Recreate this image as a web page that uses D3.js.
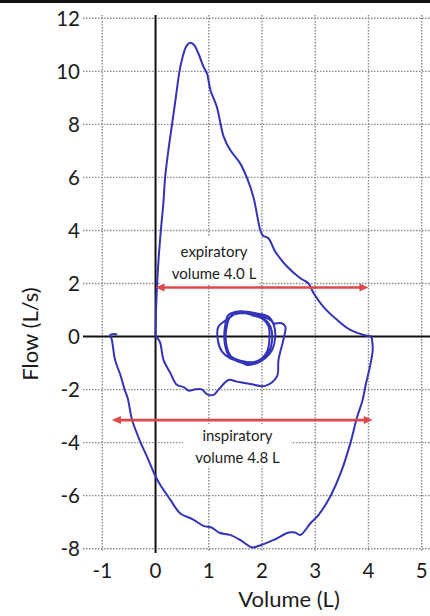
<!DOCTYPE html>
<html>
<head>
<meta charset="utf-8">
<script src="https://cdn.jsdelivr.net/npm/d3@7"></script>
<style>
  body { margin: 0; background: #fff; }
  svg { display: block; }
</style>
</head>
<body>
<div id="chart"></div>
<script>
// flow-volume loop, values
const xTicks = [-1, 0, 1, 2, 3, 4, 5];
const yTicks = [-8, -6, -4, -2, 0, 2, 4, 6, 8, 10, 12];

// forced expiration: volume (L), flow (L/s)
const expiration = [
  [0, 0], [0.01, 1.0], [0.03, 2.0], [0.06, 3.0], [0.1, 4.0], [0.15, 5.1],
  [0.18, 6.0], [0.24, 7.0], [0.31, 8.0], [0.38, 9.0], [0.45, 10.0],
  [0.51, 10.55], [0.58, 10.95], [0.65, 11.08], [0.72, 11.0], [0.8, 10.7],
  [0.9, 10.18], [0.97, 9.9], [1.03, 9.3], [1.15, 8.67], [1.28, 7.54],
  [1.4, 7.04], [1.59, 6.53], [1.72, 5.97], [1.84, 5.25], [1.97, 4.0],
  [2.02, 3.8], [2.12, 3.71], [2.25, 3.2], [2.47, 2.64], [2.72, 2.2],
  [2.87, 2.01], [2.97, 1.63], [3.15, 1.13], [3.41, 0.63], [3.66, 0.25],
  [3.91, 0.06], [4.06, 0.0]
];

// forced inspiration
const inspiration = [
  [4.06, 0], [4.08, -0.5], [4.02, -1.2], [3.95, -1.8], [3.89, -2.39],
  [3.78, -3.08], [3.66, -4.02], [3.5, -5.03], [3.28, -6.04], [3.06, -6.73],
  [2.91, -7.04], [2.72, -7.48], [2.62, -7.39], [2.5, -7.39], [2.22, -7.67],
  [1.9, -7.92], [1.81, -7.95], [1.59, -7.67], [1.4, -7.48], [1.2, -7.4],
  [1.05, -7.2], [0.9, -7.14], [0.71, -6.9], [0.46, -6.66], [0.28, -6.16],
  [0.09, -5.6], [0, -5.27], [-0.16, -4.53], [-0.29, -3.95], [-0.44, -3.15],
  [-0.52, -2.35], [-0.58, -2.0], [-0.66, -1.45], [-0.76, -0.88],
  [-0.82, -0.13], [-0.85, 0.06], [-0.78, 0.1], [-0.72, 0.08]
];

// quiet breathing before the manoeuvre
const tidal = [
  [0, 0], [0.05, -0.1], [0.09, -0.25], [0.15, -0.88], [0.28, -1.38],
  [0.4, -1.82], [0.53, -1.91], [0.62, -2.04], [0.75, -1.99], [0.87, -1.99],
  [0.97, -2.18], [1.09, -2.2], [1.18, -2.01], [1.37, -1.64], [1.53, -1.7],
  [1.78, -1.79], [2.06, -1.86], [2.28, -1.51], [2.31, -0.88], [2.4, -0.13],
  [2.44, 0.37], [2.37, 0.5], [2.22, 0.5],
  [2.16, 0.62], [1.95, 0.8], [1.78, 0.83], [1.56, 0.92], [1.4, 0.72],
  [1.28, 0.56], [1.18, 0.37], [1.17, -0.13], [1.25, -0.57], [1.4, -0.82],
  [1.59, -0.95], [1.72, -1.07], [1.9, -1.01], [2.06, -0.82], [2.19, -0.51],
  [2.25, 0.0], [2.22, 0.45],
  [2.12, 0.75], [1.9, 0.87], [1.59, 0.95], [1.37, 0.81], [1.31, 0.44],
  [1.3, -0.25], [1.37, -0.69], [1.56, -0.95], [1.78, -1.01], [2.0, -0.88],
  [2.12, -0.63], [2.19, -0.13], [2.16, 0.37], [2.03, 0.69],
  [1.85, 0.85], [1.6, 0.88], [1.42, 0.78], [1.34, 0.4], [1.33, -0.3],
  [1.42, -0.75], [1.62, -0.92], [1.82, -0.97], [1.98, -0.85], [2.1, -0.55],
  [2.14, -0.05], [2.12, 0.4], [2.0, 0.68], [1.8, 0.8]
];

// volume arrows: start volume, end volume, flow level
const arrowStarts = [0, -0.82];
const arrowEnds = [4.0, 4.08];
const arrowFlows = [1.85, -3.15];
const arrowLabels = [
  ["expiratory", "volume 4.0 L"],
  ["inspiratory", "volume 4.8 L"]
];
const labelVolumes = [1.1, 1.54];
const labelFlows = [3.0, -3.95];

const width = 430;
const height = 616;
const fontFamily = "Lato, 'Open Sans', sans-serif";
const blue = "#3434b8";
const red = "#e0474a";
const ink = "#1c1c1c";

const x = d3.scaleLinear().domain([-1, 5]).range([102.3, 421.7]);
const y = d3.scaleLinear().domain([-8, 12]).range([548.7, 18.3]);

const svg = d3
  .select("#chart")
  .append("svg")
  .attr("width", width)
  .attr("height", height);

svg.append("rect").attr("width", width).attr("height", height).attr("fill", "white");
// thick rule along the top edge
svg.append("rect").attr("x", 0).attr("y", 0).attr("width", width).attr("height", 3).attr("fill", "#111");

// dotted grid
const grid = svg
  .append("g")
  .attr("stroke", "#8a8a8a")
  .attr("stroke-width", 1.4)
  .attr("stroke-dasharray", "1.5,1.5");

grid
  .selectAll("line.h")
  .data(yTicks.filter((d) => d !== 0))
  .join("line")
  .attr("class", "h")
  .attr("x1", 83)
  .attr("x2", width)
  .attr("y1", (d) => y(d))
  .attr("y2", (d) => y(d));

grid
  .selectAll("line.v")
  .data(xTicks.filter((d) => d !== 0))
  .join("line")
  .attr("class", "v")
  .attr("x1", (d) => x(d))
  .attr("x2", (d) => x(d))
  .attr("y1", 15)
  .attr("y2", 551);

// white boxes behind the annotations
const boxes = [
  [160, 236, 98, 48],
  [183, 424, 108, 42]
];
svg
  .append("g")
  .selectAll("rect")
  .data(boxes)
  .join("rect")
  .attr("x", (d) => d[0])
  .attr("y", (d) => d[1])
  .attr("width", (d) => d[2])
  .attr("height", (d) => d[3])
  .attr("fill", "white");

// zero axes
svg
  .append("line")
  .attr("x1", 83)
  .attr("x2", width)
  .attr("y1", y(0))
  .attr("y2", y(0))
  .attr("stroke", "#111")
  .attr("stroke-width", 2);
svg
  .append("line")
  .attr("x1", x(0))
  .attr("x2", x(0))
  .attr("y1", 15)
  .attr("y2", 553)
  .attr("stroke", "#111")
  .attr("stroke-width", 2);

// curves
const line = d3
  .line()
  .x((d) => x(d[0]))
  .y((d) => y(d[1]))
  .curve(d3.curveCatmullRom);

svg
  .append("g")
  .attr("fill", "none")
  .attr("stroke", blue)
  .attr("stroke-width", 2)
  .attr("stroke-linejoin", "round")
  .selectAll("path")
  .data([tidal, expiration, inspiration])
  .join("path")
  .attr("d", line);

// red double arrows
const arrows = svg.append("g");
arrowFlows.forEach((f, i) => {
  const x0 = x(arrowStarts[i]);
  const x1 = x(arrowEnds[i]);
  const yy = y(f);
  const head = 9;
  const half = 4;
  arrows
    .append("line")
    .attr("x1", x0 + head - 1)
    .attr("x2", x1 - head + 1)
    .attr("y1", yy)
    .attr("y2", yy)
    .attr("stroke", red)
    .attr("stroke-width", 2.6);
  arrows
    .append("path")
    .attr("d", `M${x0},${yy} L${x0 + head},${yy - half} L${x0 + head},${yy + half} Z`)
    .attr("fill", red);
  arrows
    .append("path")
    .attr("d", `M${x1},${yy} L${x1 - head},${yy - half} L${x1 - head},${yy + half} Z`)
    .attr("fill", red);
});

// annotation text
arrowLabels.forEach((lines, i) => {
  const t = svg
    .append("text")
    .attr("font-family", fontFamily)
    .attr("font-size", 15)
    .attr("fill", ink)
    .attr("text-anchor", "middle")
    .attr("x", x(labelVolumes[i]))
    .attr("y", y(labelFlows[i]));
  lines.forEach((s, j) => {
    t.append("tspan")
      .attr("x", x(labelVolumes[i]))
      .attr("dy", j === 0 ? 0 : 21.8)
      .text(s);
  });
});

// tick labels
svg
  .append("g")
  .attr("font-family", fontFamily)
  .attr("font-size", 20.5)
  .attr("fill", ink)
  .attr("text-anchor", "end")
  .selectAll("text")
  .data(yTicks)
  .join("text")
  .attr("x", 80)
  .attr("y", (d) => y(d))
  .attr("dy", "0.36em")
  .text((d) => d);

svg
  .append("g")
  .attr("font-family", fontFamily)
  .attr("font-size", 20.5)
  .attr("fill", ink)
  .attr("text-anchor", "middle")
  .selectAll("text")
  .data(xTicks)
  .join("text")
  .attr("x", (d) => x(d))
  .attr("y", 578)
  .text((d) => d);

// axis titles
svg
  .append("text")
  .attr("font-family", fontFamily)
  .attr("font-size", 22)
  .attr("fill", ink)
  .attr("text-anchor", "middle")
  .attr("x", 289)
  .attr("y", 607)
  .text("Volume (L)");

svg
  .append("text")
  .attr("font-family", fontFamily)
  .attr("font-size", 22)
  .attr("fill", ink)
  .attr("text-anchor", "middle")
  .attr("transform", "translate(38,334) rotate(-90)")
  .text("Flow (L/s)");
</script>
</body>
</html>
